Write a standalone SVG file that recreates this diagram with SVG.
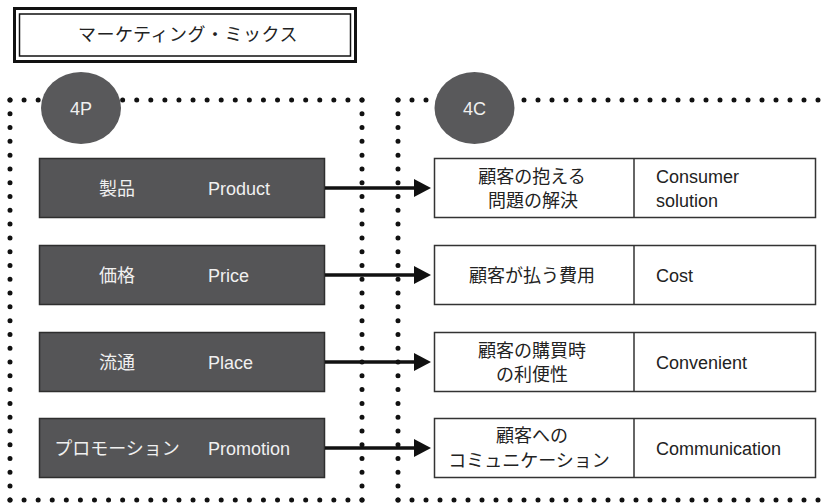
<svg xmlns="http://www.w3.org/2000/svg" width="826" height="503" viewBox="0 0 826 503">
<defs>
<style>
text{font-family:"Liberation Sans","Noto Sans CJK JP",sans-serif;font-size:18px;}
.dk{fill:#555557;stroke:#2e2e2e;stroke-width:1.5;}
.lt{fill:#f0f0f0;}
.wb{fill:#fff;stroke:#333;stroke-width:1.5;}
.bt{fill:#222;}
.mid{text-anchor:middle;}
.dot{stroke:#111;stroke-width:5;stroke-linecap:round;fill:none;}
.arr{stroke:#111;stroke-width:3.5;fill:none;marker-end:url(#ah);}
.circ{fill:#59595b;}
</style>
<marker id="ah" markerUnits="userSpaceOnUse" markerWidth="18" markerHeight="20" refX="0" refY="9" orient="auto" viewBox="0 0 18 18">
<polygon points="0,0 17,9 0,18" fill="#111"/>
</marker>
</defs>

<g id="title">
<rect x="14.5" y="8.5" width="341" height="53" fill="#fff" stroke="#111" stroke-width="3"/>
<rect x="19.5" y="14" width="331" height="42" fill="none" stroke="#111" stroke-width="1.5"/>
<text x="188" y="41" class="mid bt" letter-spacing="0.5">マーケティング・ミックス</text>
</g>

<g id="frames">
<line class="dot" x1="10" y1="100" x2="362" y2="100" stroke-dasharray="0 14.08"/>
<line class="dot" x1="10" y1="100" x2="10" y2="500" stroke-dasharray="0 13.79"/>
<line class="dot" x1="362" y1="100" x2="362" y2="500" stroke-dasharray="0 13.79"/>
<line class="dot" x1="10" y1="500" x2="362" y2="500" stroke-dasharray="0 14.08"/>
<line class="dot" x1="398" y1="100" x2="840" y2="100" stroke-dasharray="0 14"/>
<line class="dot" x1="398" y1="100" x2="398" y2="500" stroke-dasharray="0 13.79"/>
<line class="dot" x1="398" y1="500" x2="840" y2="500" stroke-dasharray="0 14"/>
</g>

<g id="c4P">
<ellipse class="circ" cx="81" cy="108" rx="40" ry="36"/>
<text x="81" y="114.5" class="mid lt">4P</text>
</g>
<g id="c4C">
<ellipse class="circ" cx="474.5" cy="108" rx="40" ry="36"/>
<text x="474.5" y="114.5" class="mid lt">4C</text>
</g>

<g id="p-product">
<rect class="dk" x="39.5" y="158.5" width="285" height="59"/>
<text x="117" y="194.5" class="mid lt">製品</text>
<text x="208" y="194.5" class="lt">Product</text>
</g>
<g id="p-price">
<rect class="dk" x="39.5" y="245.5" width="285" height="59"/>
<text x="117" y="281.5" class="mid lt">価格</text>
<text x="208" y="281.5" class="lt">Price</text>
</g>
<g id="p-place">
<rect class="dk" x="39.5" y="332.5" width="285" height="59"/>
<text x="117" y="368.5" class="mid lt">流通</text>
<text x="208" y="368.5" class="lt">Place</text>
</g>
<g id="p-promotion">
<rect class="dk" x="39.5" y="418.5" width="285" height="59"/>
<text x="117" y="454.5" class="mid lt">プロモーション</text>
<text x="208" y="454.5" class="lt">Promotion</text>
</g>

<g id="c-solution">
<rect class="wb" x="434.5" y="158.5" width="381" height="59"/>
<line x1="634" y1="158.5" x2="634" y2="217.5" stroke="#333" stroke-width="1.5"/>
<text x="532" y="182.5" class="mid bt">顧客の抱える</text>
<text x="533" y="206.5" class="mid bt">問題の解決</text>
<text x="656" y="182.5" class="bt">Consumer</text>
<text x="656" y="206.5" class="bt">solution</text>
</g>
<g id="c-cost">
<rect class="wb" x="434.5" y="245.5" width="381" height="59"/>
<line x1="634" y1="245.5" x2="634" y2="304.5" stroke="#333" stroke-width="1.5"/>
<text x="532" y="281.5" class="mid bt">顧客が払う費用</text>
<text x="656" y="281.5" class="bt">Cost</text>
</g>
<g id="c-convenient">
<rect class="wb" x="434.5" y="332.5" width="381" height="59"/>
<line x1="634" y1="332.5" x2="634" y2="391.5" stroke="#333" stroke-width="1.5"/>
<text x="532" y="357" class="mid bt">顧客の購買時</text>
<text x="532" y="381" class="mid bt">の利便性</text>
<text x="656" y="368.5" class="bt">Convenient</text>
</g>
<g id="c-communication">
<rect class="wb" x="434.5" y="418.5" width="381" height="59"/>
<line x1="634" y1="418.5" x2="634" y2="477.5" stroke="#333" stroke-width="1.5"/>
<text x="532" y="442" class="mid bt">顧客への</text>
<text x="529" y="466.5" class="mid bt">コミュニケーション</text>
<text x="656" y="454.5" class="bt">Communication</text>
</g>

<g id="connectors">
<line class="arr" x1="325" y1="188" x2="414" y2="188"/>
<line class="arr" x1="325" y1="275" x2="414" y2="275"/>
<line class="arr" x1="325" y1="362" x2="414" y2="362"/>
<line class="arr" x1="325" y1="448" x2="414" y2="448"/>
</g>
</svg>
